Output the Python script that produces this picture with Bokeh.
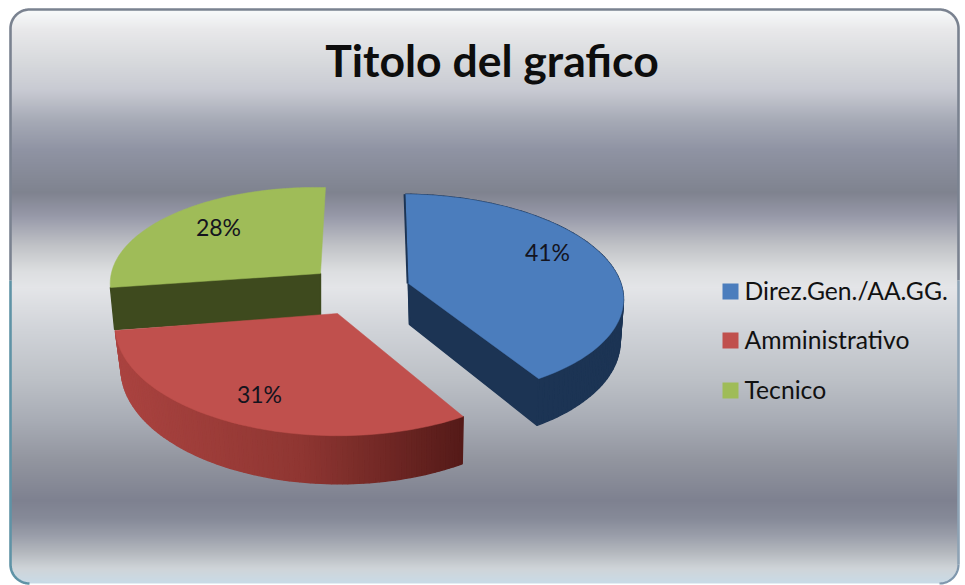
import numpy as np
from bokeh.plotting import figure
from bokeh.models import Range1d
from bokeh.core.properties import value
from bokeh.embed import file_html
from bokeh.resources import INLINE

title = "Titolo del grafico"
categories = ["Direz.Gen./AA.GG.", "Amministrativo", "Tecnico"]
shares = [41, 31, 28]
labels = ["41%", "31%", "28%"]
top_colors = ["#4b7dbd", "#c0504d", "#9fbc58"]
side_colors = ["#1c3454", "#8f3632", "#3e4a1e"]

# layout of the exploded perspective pie (page pixels)
slices = [
    dict(c=(408, 283), rx=213, ry=100, k=.12, vx=-3.4, s=2, bx=.98, by=1.06, dx=1, d=41),
    dict(c=(337, 313), rx=220, ry=107.5, k=.12, vx=5.8, s=3.5, bx=.98, by=1.05, dx=1.5, d=42),
    dict(c=(320, 273), rx=208, ry=96.3, k=.12, vx=5.6, s=4.4, bx=.98, by=1.0, dx=0, d=42),
]
label_pos = [(547, 251), (259, 393), (218, 226)]
legend_y = [291, 340, 390]

# background gradient stops
grad_y = [0, 12, 30, 60, 90, 120, 150, 192, 215, 245, 270, 287, 330, 380, 420, 460, 500, 518, 535, 552, 568, 585]
grad_c = ["#f6f9fb", "#f6f8f9", "#e8e8ea", "#d8dadd", "#c8cad2", "#a6aab6", "#8f93a3", "#7f838f", "#9698a8",
          "#c0c2c6", "#dcdee0", "#e4e5e8", "#d0d3d8", "#bcc0c6", "#a8acb5", "#92959f", "#7e8190", "#868a98",
          "#9a9eaa", "#b4b8be", "#cfd4d8", "#c8dcea"]

W, H = 965, 585
X0, Y0 = 0, 0
L, R, T, B, RAD = 10, 958, 9, 583, 19


def rgb(h):
    return [int(h[i:i + 2], 16) for i in (1, 3, 5)]


p = figure(width=W, height=H, x_range=Range1d(X0, X0 + W), y_range=Range1d(Y0 + H, Y0),
           output_backend="svg", toolbar_location=None, min_border=0, tools="")
p.axis.visible = False
p.grid.visible = False
p.outline_line_color = None
p.background_fill_color = "#ffffff"
p.border_fill_color = "#ffffff"

# panel background
ys = np.arange(H) + Y0 + .5
xs = np.arange(W) + X0 + .5
c = np.array([rgb(h) for h in grad_c], float)
rows = np.stack([np.interp(ys, grad_y, c[:, i]) for i in range(3)], axis=1)
img = np.zeros((H, W), dtype=np.uint32)
view = img.view(dtype=np.uint8).reshape((H, W, 4))
view[..., :3] = rows[:, None, :].round().astype(np.uint8)
qx = np.maximum(np.maximum(L + RAD - xs, xs - (R - RAD)), 0)
qy = np.maximum(np.maximum(T + RAD - ys, ys - (B - RAD)), 0)
view[..., 3] = np.where(np.hypot(qx[None, :], qy[:, None]) <= RAD, 255, 0)
p.image_rgba(image=[img], x=X0, y=Y0, dw=W, dh=H)

# panel border
a = np.linspace(0, np.pi / 2, 24)
bx = np.r_[L + RAD - RAD * np.cos(a), R - RAD + RAD * np.sin(a)]
by = np.r_[T + RAD - RAD * np.sin(a), T + RAD - RAD * np.cos(a)]
p.line(np.r_[L, bx, R], np.r_[280, by, 280], line_color="#7a8290", line_width=2.6)
p.line([R, R], [280, B - RAD], line_color="#8ea3b5", line_width=2.6)
p.line(np.r_[R, R - RAD + RAD * np.cos(a)], np.r_[B - RAD, B - RAD + RAD * np.sin(a)],
       line_color="#7f97ad", line_width=2.2)
p.line(np.r_[L, L, L + RAD - RAD * np.cos(a)], np.r_[280, B - RAD, B - RAD + RAD * np.sin(a)],
       line_color="#5f93a6", line_width=2.6)

# pie
edges = np.r_[0, np.cumsum(shares)] / np.sum(shares) * 2 * np.pi


def project(th, g):
    X, Y = np.sin(th), np.cos(th)
    w = 1 + g["k"] * Y
    return (g["rx"] * X + g["vx"] * Y) / w, (-g["ry"] * Y + g["s"] * X) / w


def mix(x):
    return "#%02x%02x%02x" % tuple(
        int(round(np.interp(x, [115, 300, 463], [u, v, t])))
        for u, v, t in zip((170, 67, 64), (143, 54, 50), (84, 26, 24)))


for i in (2, 1, 0):
    g = slices[i]
    th = np.linspace(edges[i], edges[i + 1], 90)
    ox, oy = project(th, g)
    cx, cy = g["c"]
    tx = np.r_[cx, cx + ox]
    ty = np.r_[cy, cy + oy]
    ux = np.r_[cx, cx + ox * g["bx"]] + g["dx"]
    uy = np.r_[cy, cy + oy * g["by"]] + g["d"]
    n = len(tx)
    # green shows only its straight front face, red only its outer wall
    faces = [0] if i == 2 else (range(1, n - 1) if i == 1 else range(n))
    for j in faces:
        m = (j + 1) % n
        col = side_colors[i]
        if i == 1:
            col = mix((tx[j] + tx[m]) / 2)
        p.patch([tx[j], tx[m], ux[m], ux[j]], [ty[j], ty[m], uy[m], uy[j]],
                fill_color=col, line_color=col, line_width=1.4)
    p.patch(tx, ty, fill_color=top_colors[i], line_color=top_colors[i], line_width=.5)
    if i == 0:
        p.line([tx[0] - 1, tx[1] - 1], [ty[0], ty[1]], line_color=side_colors[0], line_width=1.8)

font = value("Lato")
p.text([491.5], [59], text=[title], text_font=font, text_font_size="44.5px", text_font_style="bold",
       text_color="#0d0d0d", text_align="center", text_baseline="middle")
for (lx, ly), t in zip(label_pos, labels):
    p.text([lx], [ly], text=[t], text_font=font, text_font_size="23px", text_color="#14141e",
           text_align="center", text_baseline="middle")
for ly, t, col in zip(legend_y, categories, top_colors):
    p.quad(left=[722], right=[738], top=[ly - 8], bottom=[ly + 8], fill_color=col, line_color=None)
    p.text([744], [ly - 1], text=[t], text_font=font, text_font_size="24.7px", text_color="#111111",
           text_align="left", text_baseline="middle")

open("out.html", "w").write(file_html(p, INLINE))
